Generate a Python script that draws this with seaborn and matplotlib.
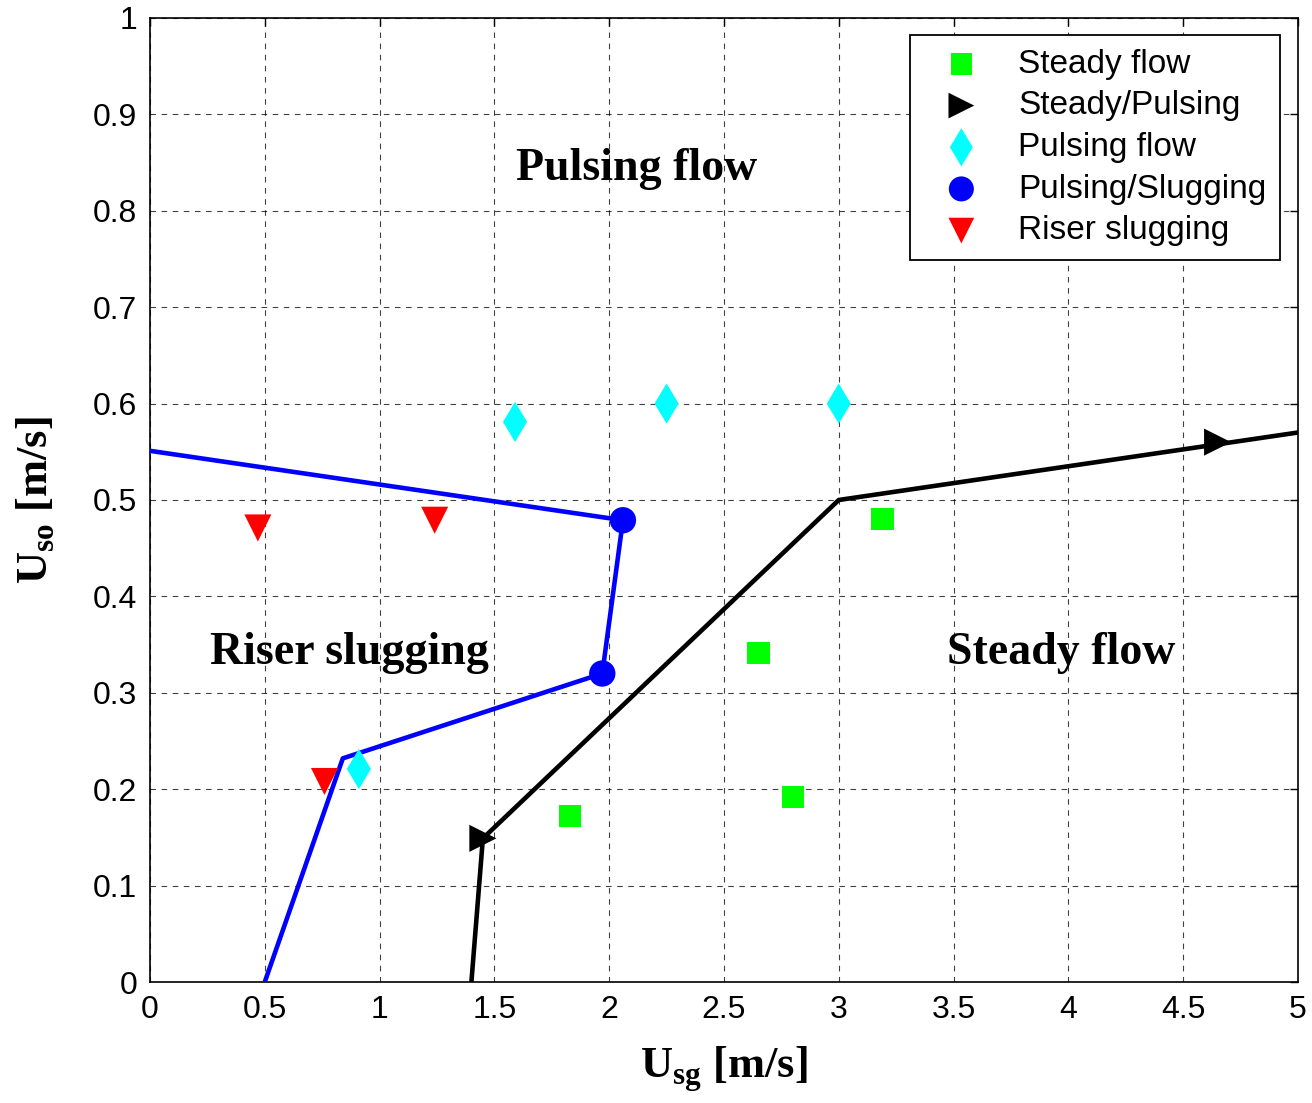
import matplotlib
matplotlib.use("Agg")
import matplotlib.pyplot as plt
import seaborn as sns
import pandas as pd

# Measured points (Usg, Uso) per flow regime
steady_x = [1.83, 2.65, 2.80, 3.19]
steady_y = [0.172, 0.341, 0.192, 0.480]
steady_pulsing_x = [1.45, 4.65]
steady_pulsing_y = [0.149, 0.560]
pulsing_x = [0.91, 1.59, 2.25, 3.00]
pulsing_y = [0.221, 0.581, 0.600, 0.600]
pulsing_slugging_x = [1.97, 2.06]
pulsing_slugging_y = [0.320, 0.479]
riser_x = [0.47, 0.76, 1.24]
riser_y = [0.471, 0.208, 0.479]

# Regime boundaries
slug_bound_x = [0.50, 0.84, 1.97, 2.06, 0.0]
slug_bound_y = [0.0, 0.232, 0.320, 0.479, 0.551]
steady_bound_x = [1.40, 1.45, 3.00, 5.00]
steady_bound_y = [0.0, 0.149, 0.500, 0.570]

sns.set_style("white")
plt.rcParams['font.family'] = ['Liberation Sans', 'DejaVu Sans']
plt.rcParams['text.color'] = 'black'
plt.rcParams['axes.labelcolor'] = 'black'

fig = plt.figure(figsize=(13.12, 11.03), dpi=100)
ax = fig.add_axes([0.1143, 0.1097, 0.875, 0.874])

sns.lineplot(x=slug_bound_x, y=slug_bound_y, sort=False, estimator=None,
             color='#0000ff', linewidth=3.3, ax=ax, zorder=3)
sns.lineplot(x=steady_bound_x, y=steady_bound_y, sort=False, estimator=None,
             color='black', linewidth=3.3, ax=ax, zorder=3)

sns.scatterplot(x=steady_x, y=steady_y, marker='s', s=260, color='#00ff00',
                edgecolor='none', label='Steady flow', ax=ax, zorder=4)
sns.scatterplot(x=steady_pulsing_x, y=steady_pulsing_y, marker='>', s=380, color='black',
                edgecolor='none', label='Steady/Pulsing', ax=ax, zorder=4)
sns.scatterplot(x=pulsing_x, y=pulsing_y, marker='d', s=420, color='#00ffff',
                edgecolor='none', label='Pulsing flow', ax=ax, zorder=4)
sns.scatterplot(x=pulsing_slugging_x, y=pulsing_slugging_y, marker='o', s=360, color='#0000ff',
                edgecolor='none', label='Pulsing/Slugging', ax=ax, zorder=4)
sns.scatterplot(x=riser_x, y=riser_y, marker='v', s=380, color='#ff0000',
                edgecolor='none', label='Riser slugging', ax=ax, zorder=4)

ax.set_xlim(0, 5)
ax.set_ylim(0, 1)
ax.set_xticks([0, 0.5, 1, 1.5, 2, 2.5, 3, 3.5, 4, 4.5, 5])
ax.set_xticklabels(['0', '0.5', '1', '1.5', '2', '2.5', '3', '3.5', '4', '4.5', '5'])
ax.set_yticks([i / 10 for i in range(11)])
ax.set_yticklabels(['0'] + [f'{i/10:.1f}' for i in range(1, 10)] + ['1'])
ax.tick_params(direction='in', length=6, width=1, top=True, right=True,
               labelsize=23, pad=9, colors='black')
ax.grid(True, linestyle=(0, (5, 5)), color='black', linewidth=0.8, alpha=0.75)
for s in ax.spines.values():
    s.set_color('black')
    s.set_linewidth(1.2)

serif = ['Liberation Serif', 'DejaVu Serif']
ax.set_xlabel(r'U$_{\mathregular{sg}}$ [m/s]', fontsize=32, fontweight='bold', family=serif,
              labelpad=14, color='black')
ax.set_ylabel(r'U$_{\mathregular{so}}$ [m/s]', fontsize=32, fontweight='bold', family=serif,
              labelpad=26, color='black')

ax.text(2.12, 0.843, 'Pulsing flow', fontsize=33, fontweight='bold', family=serif,
        ha='center', va='center', color='black')
ax.text(0.87, 0.341, 'Riser slugging', fontsize=33, fontweight='bold', family=serif,
        ha='center', va='center', color='black')
ax.text(3.97, 0.341, 'Steady flow', fontsize=33, fontweight='bold', family=serif,
        ha='center', va='center', color='black')

leg = ax.legend(loc='upper right', bbox_to_anchor=(0.984, 0.982), borderaxespad=0,
                fontsize=24, frameon=True, fancybox=False, framealpha=1, edgecolor='black',
                borderpad=0.4, labelspacing=0.32, handlelength=2.3, handletextpad=0.55,
                markerscale=0.95)
leg.get_frame().set_linewidth(1.3)
for t in leg.get_texts():
    t.set_color('black')

plt.savefig('out.png', dpi=100)
